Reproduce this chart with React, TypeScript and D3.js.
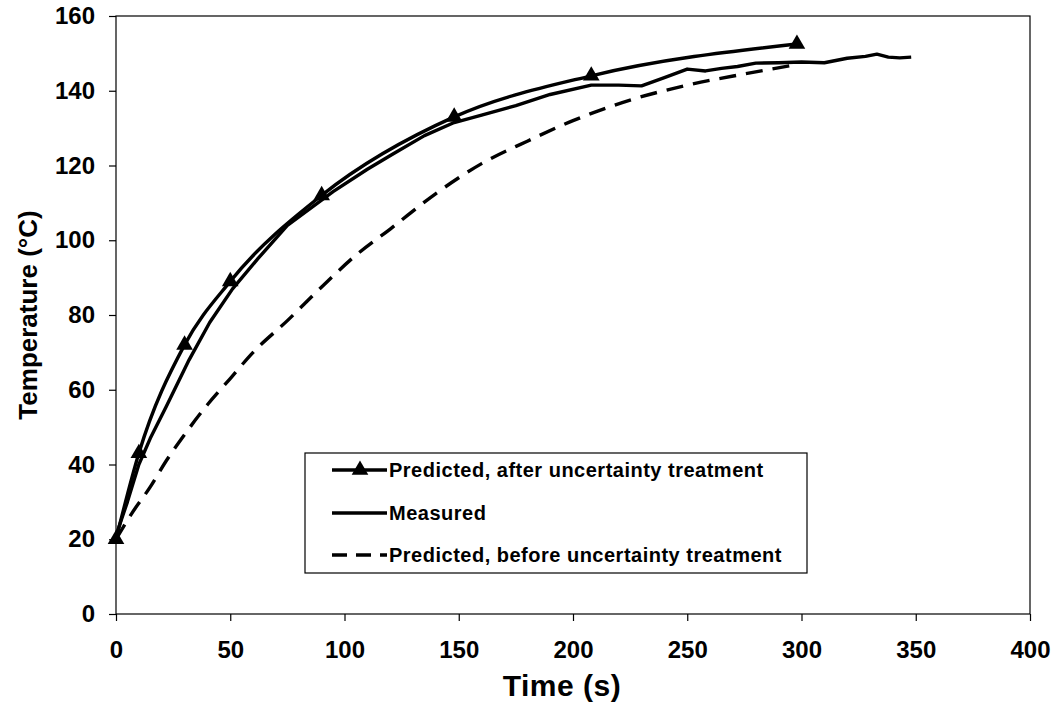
import React, { useEffect, useRef } from 'react';
import * as d3 from 'd3';

// Predicted, after uncertainty treatment (markers)
const afterTime = [0, 10, 30, 50, 90, 148, 208, 298];
const afterTemp = [20, 43, 72, 89, 112, 133, 144, 152.5];

// Measured
const measuredTime = [0, 5, 10, 15, 22, 32, 41, 51, 62, 75, 95, 110, 121, 135, 148, 160, 175, 190, 208, 220, 230, 240, 250, 258, 265, 272, 280, 290, 300, 310, 320, 328, 333, 338, 343, 348];
const measuredTemp = [21, 30, 40, 47, 55.5, 68, 78, 87, 95, 104, 113, 119, 123, 128, 131.5, 133.5, 136, 139, 141.5, 141.5, 141.3, 143.5, 145.8, 145.3, 146, 146.5, 147.4, 147.5, 147.7, 147.5, 148.7, 149.2, 149.8, 149, 148.8, 149];

// Predicted, before uncertainty treatment (dashed)
const beforeTime = [0, 7, 15, 22, 30, 40, 50, 60, 75, 90, 105, 120, 140, 160, 180, 200, 225, 250, 275, 298];
const beforeTemp = [20, 27, 34, 41, 48, 56, 63, 70, 78.5, 87.5, 96, 103, 112.5, 120.5, 126.5, 132, 137.5, 141.5, 144.5, 147];

const xTicks = [0, 50, 100, 150, 200, 250, 300, 350, 400];
const yTicks = [0, 20, 40, 60, 80, 100, 120, 140, 160];

const legendLabels = [
  'Predicted, after uncertainty treatment',
  'Measured',
  'Predicted, before uncertainty treatment',
];

const FONT = '"Liberation Sans", Arial, Helvetica, sans-serif';

const TempChart = () => {
  const ref = useRef<SVGSVGElement | null>(null);

  useEffect(() => {
    const svg = d3.select(ref.current);
    svg.selectAll('*').remove();

    // plot area in pixels
    const left = 116;
    const right = 1030;
    const top = 16;
    const bottom = 614;

    const x = d3.scaleLinear().domain([0, 400]).range([left, right]);
    const y = d3.scaleLinear().domain([0, 160]).range([bottom, top]);

    // frame
    svg
      .append('rect')
      .attr('x', left)
      .attr('y', top)
      .attr('width', right - left)
      .attr('height', bottom - top)
      .attr('fill', 'none')
      .attr('stroke', '#000')
      .attr('stroke-width', 1.2);

    // axes
    const xAxis = svg
      .append('g')
      .attr('transform', `translate(0, ${bottom})`)
      .call(d3.axisBottom(x).tickValues(xTicks).tickSize(7).tickPadding(20));
    const yAxis = svg
      .append('g')
      .attr('transform', `translate(${left}, 0)`)
      .call(d3.axisLeft(y).tickValues(yTicks).tickSize(7).tickPadding(14));

    [xAxis, yAxis].forEach((g) => {
      g.select('.domain').remove();
      g.selectAll('line').attr('stroke', '#000').attr('stroke-width', 1.2);
      g.selectAll('text')
        .attr('fill', '#000')
        .style('font-family', FONT)
        .style('font-weight', 'bold')
        .style('font-size', '24px');
    });

    // axis titles
    svg
      .append('text')
      .attr('x', 562)
      .attr('y', 696)
      .attr('text-anchor', 'middle')
      .style('font-family', FONT)
      .style('font-weight', 'bold')
      .style('font-size', '30px')
      .style('letter-spacing', '0.5px')
      .text('Time (s)');

    svg
      .append('text')
      .attr('transform', `translate(37, ${(top + bottom) / 2}) rotate(-90)`)
      .attr('text-anchor', 'middle')
      .style('font-family', FONT)
      .style('font-weight', 'bold')
      .style('font-size', '26px')
      .text('Temperature (°C)');

    const lineData = (ts: number[], vs: number[]) => ts.map((t, i) => [t, vs[i]] as [number, number]);

    const smooth = d3
      .line<[number, number]>()
      .x((d) => x(d[0]))
      .y((d) => y(d[1]))
      .curve(d3.curveMonotoneX);
    const straight = d3
      .line<[number, number]>()
      .x((d) => x(d[0]))
      .y((d) => y(d[1]));

    // predicted before (dashed)
    svg
      .append('path')
      .attr('d', smooth(lineData(beforeTime, beforeTemp)))
      .attr('fill', 'none')
      .attr('stroke', '#000')
      .attr('stroke-width', 3.4)
      .attr('stroke-dasharray', '17,10');

    // measured
    svg
      .append('path')
      .attr('d', straight(lineData(measuredTime, measuredTemp)))
      .attr('fill', 'none')
      .attr('stroke', '#000')
      .attr('stroke-width', 3.4)
      .attr('stroke-linejoin', 'round');

    // predicted after
    svg
      .append('path')
      .attr('d', smooth(lineData(afterTime, afterTemp)))
      .attr('fill', 'none')
      .attr('stroke', '#000')
      .attr('stroke-width', 3.4);

    const tri = d3.symbol().type(d3.symbolTriangle).size(120);
    svg
      .append('g')
      .selectAll('path')
      .data(lineData(afterTime, afterTemp))
      .enter()
      .append('path')
      .attr('d', tri)
      .attr('transform', (d) => `translate(${x(d[0])}, ${y(d[1])})`)
      .attr('fill', '#000');

    // legend
    const legend = svg.append('g');
    legend
      .append('rect')
      .attr('x', 305)
      .attr('y', 453)
      .attr('width', 502)
      .attr('height', 120)
      .attr('fill', '#fff')
      .attr('stroke', '#000')
      .attr('stroke-width', 1.2);

    const rowY = [470, 513, 555];
    legendLabels.forEach((label, i) => {
      const row = legend.append('g').attr('transform', `translate(0, ${rowY[i]})`);
      row
        .append('line')
        .attr('x1', 332)
        .attr('x2', 387)
        .attr('stroke', '#000')
        .attr('stroke-width', 3.4)
        .attr('stroke-dasharray', i === 2 ? '15,9' : null);
      if (i === 0) {
        row.append('path').attr('d', tri).attr('transform', 'translate(360, 0)').attr('fill', '#000');
      }
      row
        .append('text')
        .attr('x', 389)
        .attr('dy', '0.35em')
        .style('font-family', FONT)
        .style('font-weight', 'bold')
        .style('font-size', '20px')
        .style('letter-spacing', '0.5px')
        .text(label);
    });
  }, []);

  return <svg ref={ref} width={1060} height={718} style={{ display: 'block', background: '#fff' }} />;
};

export default function App() {
  return (
    <div style={{ position: 'absolute', left: 0, top: 0 }}>
      <TempChart />
    </div>
  );
}
